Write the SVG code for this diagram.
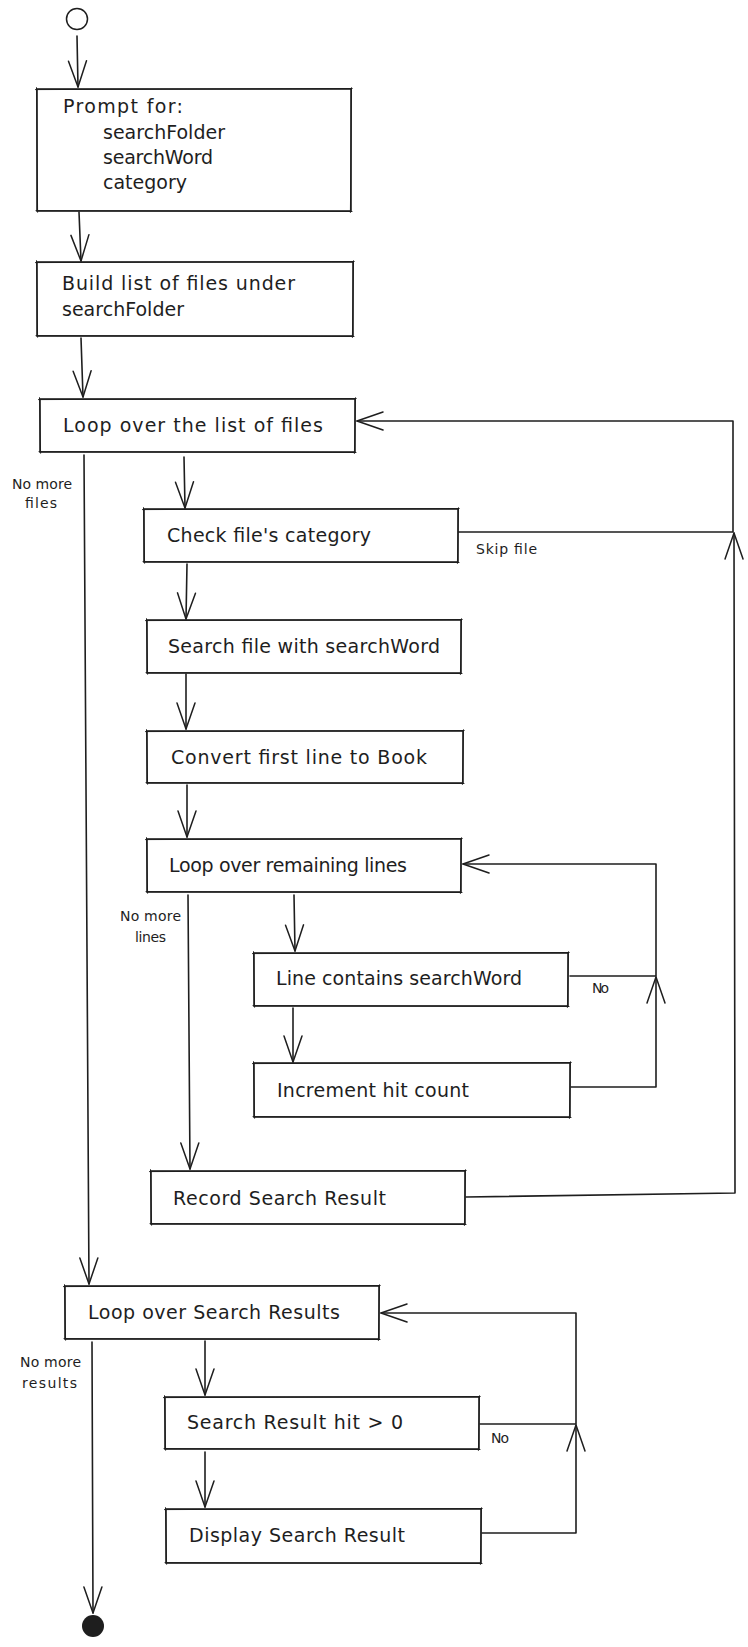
<svg xmlns="http://www.w3.org/2000/svg" width="748" height="1647" viewBox="0 0 748 1647">
  <defs>
    <style>
      .box { fill: #ffffff; stroke: #1e1e1e; stroke-width: 1.6; }
      .rough { fill: none; stroke: #1e1e1e; stroke-width: 1; stroke-linecap: round; }
      .c { fill: none; stroke: #1e1e1e; stroke-width: 1.6; stroke-linecap: round; stroke-linejoin: round; marker-end: url(#head); }
      .t { font-family: "DejaVu Sans", "Liberation Sans", sans-serif; font-size: 19px; fill: #1e1e1e; }
      .s { font-family: "DejaVu Sans", "Liberation Sans", sans-serif; font-size: 14px; fill: #1e1e1e; }
    </style>
    <!-- open V arrowhead, tip at the path end -->
    <marker id="head" viewBox="-30 -12 32 24" markerWidth="32" markerHeight="24" refX="0" refY="0" markerUnits="userSpaceOnUse" orient="auto">
      <path d="M-26,-9 L0,0 L-26,9" fill="none" stroke="#1e1e1e" stroke-width="1.5" stroke-linecap="round" stroke-linejoin="round"/>
    </marker>
  </defs>
  <rect width="748" height="1647" fill="#ffffff"/>

  <g id="connectors">
    <path class="c" d="M77 36 L78 87"/>
    <path class="c" d="M79 212 L81 261"/>
    <path class="c" d="M81 338 L83 397"/>
    <path class="c" d="M184 457 L185 508"/>
    <path class="c" d="M84 455 L89 1284"/>
    <path class="c" d="M187 564 L186 619"/>
    <path class="c" d="M186 674 L186 729"/>
    <path class="c" d="M187 785 L187 837"/>
    <path class="c" d="M294 895 L295 951"/>
    <path class="c" d="M188 895 L190 1169"/>
    <path class="c" d="M293 1008 L293 1062"/>
    <path class="c" d="M570 976 L656 976 L656 864 L463 864"/>
    <path class="c" d="M571 1087 L656 1087 L656 977"/>
    <path class="c" d="M458 532 L733 532 L733 421 L357 421"/>
    <path class="c" d="M466 1197 L735 1193 L734 533"/>
    <path class="c" d="M205 1341 L205 1395"/>
    <path class="c" d="M205 1452 L205 1507"/>
    <path class="c" d="M92 1342 L93 1613"/>
    <path class="c" d="M480 1424 L576 1424 L576 1313 L381 1313"/>
    <path class="c" d="M482 1533 L576 1533 L576 1425"/>
    <text class="s" x="12" y="489" textLength="60">No more</text>
    <text class="s" x="25" y="508" textLength="32">files</text>
    <text class="s" x="476" y="554" textLength="61">Skip file</text>
    <text class="s" x="120" y="921" textLength="61">No more</text>
    <text class="s" x="135" y="942" textLength="31">lines</text>
    <text class="s" x="592" y="993" textLength="17">No</text>
    <text class="s" x="20" y="1367" textLength="61">No more</text>
    <text class="s" x="22" y="1388" textLength="55">results</text>
    <text class="s" x="491" y="1443" textLength="18">No</text>
  </g>

  <g id="start">
    <circle cx="77" cy="19" r="10.5" fill="none" stroke="#1e1e1e" stroke-width="1.5"/>
  </g>

  <g id="prompt">
    <rect class="box" x="37" y="89" width="314" height="122"/>
    <path class="rough" d="M35.5 89.6 L352.2 88.5 M351.5 87.8 L350.4 212.4 M352 211.5 L36 210.6 M37.6 212.2 L36.5 87.7"/>
    <text class="t" x="63" y="113" textLength="120">Prompt for:</text>
    <text class="t" x="103" y="139" textLength="122">searchFolder</text>
    <text class="t" x="103" y="164" textLength="110">searchWord</text>
    <text class="t" x="103" y="189" textLength="84">category</text>
  </g>

  <g id="build-list">
    <rect class="box" x="37" y="262" width="316" height="74"/>
    <path class="rough" d="M35.5 262.6 L354.2 261.5 M353.5 260.8 L352.4 337.4 M354 336.5 L36 335.6 M37.6 337.2 L36.5 260.7"/>
    <text class="t" x="62" y="290" textLength="233">Build list of files under</text>
    <text class="t" x="62" y="316" textLength="122">searchFolder</text>
  </g>

  <g id="loop-files">
    <rect class="box" x="40" y="399" width="315" height="53"/>
    <path class="rough" d="M38.5 399.6 L356.2 398.5 M355.5 397.8 L354.4 453.4 M356 452.5 L39 451.6 M40.6 453.2 L39.5 397.7"/>
    <text class="t" x="63" y="432" textLength="260">Loop over the list of files</text>
  </g>

  <g id="check-category">
    <rect class="box" x="144" y="509" width="314" height="53"/>
    <path class="rough" d="M142.5 509.6 L459.2 508.5 M458.5 507.8 L457.4 563.4 M459 562.5 L143 561.6 M144.6 563.2 L143.5 507.7"/>
    <text class="t" x="167" y="542" textLength="204">Check file's category</text>
  </g>

  <g id="search-file">
    <rect class="box" x="147" y="620" width="314" height="53"/>
    <path class="rough" d="M145.5 620.6 L462.2 619.5 M461.5 618.8 L460.4 674.4 M462 673.5 L146 672.6 M147.6 674.2 L146.5 618.7"/>
    <text class="t" x="168" y="653" textLength="272">Search file with searchWord</text>
  </g>

  <g id="convert-book">
    <rect class="box" x="147" y="731" width="316" height="52"/>
    <path class="rough" d="M145.5 731.6 L464.2 730.5 M463.5 729.8 L462.4 784.4 M464 783.5 L146 782.6 M147.6 784.2 L146.5 729.7"/>
    <text class="t" x="171" y="764" textLength="256">Convert first line to Book</text>
  </g>

  <g id="loop-lines">
    <rect class="box" x="147" y="839" width="314" height="53"/>
    <path class="rough" d="M145.5 839.6 L462.2 838.5 M461.5 837.8 L460.4 893.4 M462 892.5 L146 891.6 M147.6 893.2 L146.5 837.7"/>
    <text class="t" x="169" y="872" textLength="238">Loop over remaining lines</text>
  </g>

  <g id="line-contains">
    <rect class="box" x="254" y="953" width="314" height="53"/>
    <path class="rough" d="M252.5 953.6 L569.2 952.5 M568.5 951.8 L567.4 1007.4 M569 1006.5 L253 1005.6 M254.6 1007.2 L253.5 951.7"/>
    <text class="t" x="276" y="985" textLength="246">Line contains searchWord</text>
  </g>

  <g id="increment">
    <rect class="box" x="254" y="1063" width="316" height="54"/>
    <path class="rough" d="M252.5 1063.6 L571.2 1062.5 M570.5 1061.8 L569.4 1118.4 M571 1117.5 L253 1116.6 M254.6 1118.2 L253.5 1061.7"/>
    <text class="t" x="277" y="1097" textLength="192">Increment hit count</text>
  </g>

  <g id="record-result">
    <rect class="box" x="151" y="1171" width="314" height="53"/>
    <path class="rough" d="M149.5 1171.6 L466.2 1170.5 M465.5 1169.8 L464.4 1225.4 M466 1224.5 L150 1223.6 M151.6 1225.2 L150.5 1169.7"/>
    <text class="t" x="173" y="1205" textLength="213">Record Search Result</text>
  </g>

  <g id="loop-results">
    <rect class="box" x="65" y="1286" width="314" height="53"/>
    <path class="rough" d="M63.5 1286.6 L380.2 1285.5 M379.5 1284.8 L378.4 1340.4 M380 1339.5 L64 1338.6 M65.6 1340.2 L64.5 1284.7"/>
    <text class="t" x="88" y="1319" textLength="252">Loop over Search Results</text>
  </g>

  <g id="hit-check">
    <rect class="box" x="165" y="1397" width="314" height="52"/>
    <path class="rough" d="M163.5 1397.6 L480.2 1396.5 M479.5 1395.8 L478.4 1450.4 M480 1449.5 L164 1448.6 M165.6 1450.2 L164.5 1395.7"/>
    <text class="t" x="187" y="1429" textLength="216">Search Result hit &gt; 0</text>
  </g>

  <g id="display-result">
    <rect class="box" x="166" y="1509" width="315" height="54"/>
    <path class="rough" d="M164.5 1509.6 L482.2 1508.5 M481.5 1507.8 L480.4 1564.4 M482 1563.5 L165 1562.6 M166.6 1564.2 L165.5 1507.7"/>
    <text class="t" x="189" y="1542" textLength="216">Display Search Result</text>
  </g>

  <g id="end">
    <circle cx="93" cy="1626" r="11" fill="#1e1e1e"/>
  </g>
</svg>
